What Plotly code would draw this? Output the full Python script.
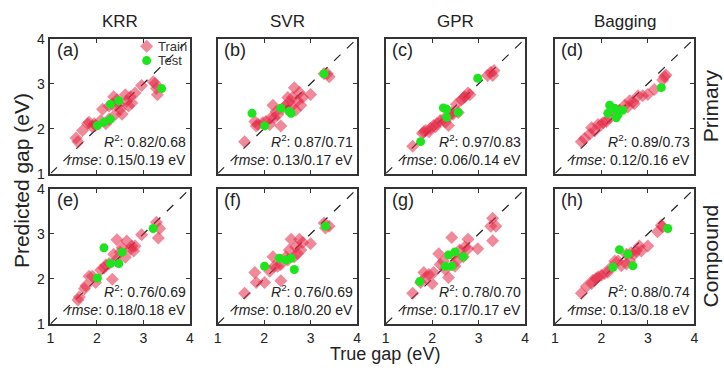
import plotly.graph_objects as go

# ---------------- data ----------------
models = ["KRR", "SVR", "GPR", "Bagging"]
rows = ["Primary", "Compound"]
panel_labels = ["(a)", "(b)", "(c)", "(d)", "(e)", "(f)", "(g)", "(h)"]
r2_texts = ["0.82/0.68", "0.87/0.71", "0.97/0.83", "0.89/0.73",
            "0.76/0.69", "0.76/0.69", "0.78/0.70", "0.88/0.74"]
rmse_texts = ["0.15/0.19", "0.13/0.17", "0.06/0.14", "0.12/0.16",
              "0.18/0.18", "0.18/0.20", "0.17/0.17", "0.13/0.18"]
series_names = ["Train", "Test"]
tick_vals = [1, 2, 3, 4]
diag = [1, 4]

# (a) KRR primary
a_train_x = [1.55, 1.59, 1.80, 1.83, 1.97, 2.12, 2.26, 2.36, 2.43, 2.50, 2.54, 2.61, 2.64, 2.72, 2.75, 2.82, 2.96, 3.21, 3.28, 3.30, 3.25, 2.26, 2.19, 2.40, 2.08, 1.94, 2.33, 2.47, 2.68, 1.69, 1.90]
a_train_y = [1.79, 1.71, 2.11, 2.14, 2.07, 2.43, 2.50, 2.71, 2.64, 2.43, 2.32, 2.75, 2.61, 2.71, 2.57, 2.79, 2.96, 3.04, 2.89, 2.75, 3.00, 2.21, 2.11, 2.32, 2.18, 2.11, 2.54, 2.54, 2.50, 1.96, 2.04]
a_test_x = [2.01, 2.15, 2.29, 2.29, 2.47, 3.39]
a_test_y = [2.07, 2.14, 2.21, 2.54, 2.62, 2.89]
# (b) SVR primary
b_train_x = [1.58, 1.87, 1.97, 2.04, 2.15, 2.19, 2.26, 2.36, 2.40, 2.47, 2.54, 2.61, 2.65, 2.72, 2.76, 2.79, 2.83, 3.00, 3.29, 3.36, 3.40, 1.80, 1.83, 2.12, 2.22, 2.29, 2.58, 2.68, 2.51]
b_train_y = [1.71, 2.09, 2.13, 2.16, 2.24, 2.52, 2.38, 2.06, 2.45, 2.52, 2.59, 2.69, 2.91, 2.62, 2.80, 2.52, 2.69, 2.76, 3.22, 3.22, 3.15, 2.16, 2.06, 2.09, 2.24, 2.31, 2.48, 2.41, 2.69]
b_test_x = [1.74, 2.01, 2.36, 2.54, 2.58, 3.29]
b_test_y = [2.34, 2.06, 2.45, 2.38, 2.34, 3.22]
# (c) GPR primary
c_train_x = [1.58, 1.79, 1.86, 1.96, 2.03, 2.10, 2.17, 2.24, 2.35, 2.38, 2.45, 2.56, 2.63, 2.70, 2.77, 2.81, 3.19, 3.26, 3.33, 3.30, 1.82, 1.93, 2.07, 2.28, 2.42, 2.52, 2.67]
c_train_y = [1.61, 1.89, 1.96, 2.00, 2.07, 2.11, 2.18, 2.21, 2.07, 2.29, 2.32, 2.36, 2.64, 2.71, 2.79, 2.75, 3.18, 3.25, 3.29, 3.18, 1.93, 1.93, 2.04, 2.14, 2.36, 2.54, 2.68]
c_test_x = [1.75, 2.24, 2.31, 2.31, 2.56, 2.98]
c_test_y = [1.71, 2.46, 2.43, 2.25, 2.36, 3.12]
# (d) Bagging primary
d_train_x = [1.57, 1.64, 1.75, 1.86, 1.93, 2.00, 2.11, 2.18, 2.29, 2.39, 2.50, 2.61, 2.68, 2.79, 2.89, 3.00, 3.14, 3.32, 3.36, 3.39, 1.79, 2.04, 2.36, 2.57, 2.71]
d_train_y = [1.71, 1.78, 1.88, 1.95, 2.09, 2.09, 2.16, 2.24, 2.34, 2.41, 2.52, 2.62, 2.59, 2.73, 2.73, 2.76, 2.87, 3.08, 3.15, 3.19, 2.02, 2.13, 2.38, 2.48, 2.55]
d_test_x = [2.18, 2.14, 2.29, 2.36, 2.46, 2.32, 3.29]
d_test_y = [2.52, 2.34, 2.45, 2.31, 2.41, 2.24, 2.91]
# (e) KRR compound
e_train_x = [1.59, 1.62, 1.73, 1.83, 1.97, 2.08, 2.19, 2.33, 2.40, 2.43, 2.54, 2.61, 2.64, 2.75, 2.79, 2.96, 3.28, 3.35, 3.32, 1.76, 1.90, 2.15, 2.26, 2.36, 2.50, 2.72, 2.82]
e_train_y = [1.53, 1.60, 1.78, 2.06, 1.92, 2.20, 2.31, 1.99, 2.41, 2.87, 2.69, 2.48, 2.84, 2.73, 2.62, 2.98, 3.26, 3.12, 2.91, 1.85, 2.06, 2.24, 2.34, 2.55, 2.59, 2.66, 2.73]
e_test_x = [2.01, 2.15, 2.29, 2.47, 2.54, 3.21]
e_test_y = [2.02, 2.69, 2.34, 2.34, 2.59, 3.12]
# (f) SVR compound
f_train_x = [1.58, 1.83, 2.01, 2.19, 2.22, 2.36, 2.36, 2.47, 2.54, 2.58, 2.68, 2.76, 2.79, 2.83, 3.00, 3.29, 3.40, 3.32, 1.80, 2.12, 2.29, 2.65, 2.72, 2.51]
f_train_y = [1.68, 1.92, 1.92, 2.49, 2.28, 1.96, 2.32, 2.49, 2.64, 2.88, 2.71, 2.88, 2.64, 2.81, 2.78, 3.24, 3.17, 3.13, 2.14, 2.17, 2.28, 2.49, 2.56, 2.42]
f_test_x = [2.01, 2.33, 2.47, 2.58, 2.65, 3.32]
f_test_y = [2.28, 2.46, 2.42, 2.46, 2.21, 3.17]
# (g) GPR compound
g_train_x = [1.58, 1.82, 1.93, 2.00, 2.03, 2.14, 2.24, 2.35, 2.42, 2.45, 2.52, 2.59, 2.67, 2.77, 2.77, 2.98, 3.30, 3.26, 3.37, 3.30, 1.75, 1.86, 2.17, 2.28, 2.49, 2.70]
g_train_y = [1.68, 2.14, 2.10, 1.89, 2.14, 2.56, 2.39, 2.03, 2.92, 2.53, 2.39, 2.64, 2.49, 2.88, 2.67, 2.67, 3.35, 3.17, 3.17, 2.85, 1.92, 2.03, 2.32, 2.21, 2.28, 2.71]
g_test_x = [1.73, 2.35, 2.42, 2.49, 2.67, 2.28]
g_test_y = [1.94, 2.53, 2.28, 2.60, 2.49, 2.28]
# (h) Bagging compound
h_train_x = [1.57, 1.68, 1.79, 1.93, 2.00, 2.14, 2.29, 2.43, 2.54, 2.64, 2.75, 2.82, 3.00, 3.21, 3.32, 3.29, 1.82, 1.89, 2.07, 2.21, 2.36, 2.61, 2.71, 2.54, 2.86]
h_train_y = [1.68, 1.83, 1.90, 2.04, 2.08, 2.15, 2.40, 2.29, 2.55, 2.58, 2.62, 2.73, 2.73, 3.05, 3.16, 3.19, 1.97, 2.01, 2.12, 2.26, 2.40, 2.40, 2.55, 2.33, 2.62]
h_test_x = [2.25, 2.39, 2.57, 2.68, 3.43]
h_test_y = [2.26, 2.65, 2.55, 2.29, 3.12]

train_x = [a_train_x, b_train_x, c_train_x, d_train_x, e_train_x, f_train_x, g_train_x, h_train_x]
train_y = [a_train_y, b_train_y, c_train_y, d_train_y, e_train_y, f_train_y, g_train_y, h_train_y]
test_x = [a_test_x, b_test_x, c_test_x, d_test_x, e_test_x, f_test_x, g_test_x, h_test_x]
test_y = [a_test_y, b_test_y, c_test_y, d_test_y, e_test_y, f_test_y, g_test_y, h_test_y]

# ---------------- layout ----------------
W, H = 724, 374
FONT = "Liberation Sans, Arial, sans-serif"
TXT = "#222"
col_left = [47, 216, 386, 557]
col_w = 141
row_top = [32, 189]
row_h = 141

TRAIN_COLOR = "rgba(228,40,70,0.55)"
TEST_COLOR = "rgb(30,228,30)"

# legend key positions (pixels): symbol centre
leg_sym_x = 146
leg_rows_y = [40, 55]
LEG_SYM_OFF = 22  # offset between legend left edge and symbol centre

fig = go.Figure()
layout = dict(
    width=W, height=H,
    margin=dict(l=0, r=0, t=0, b=0),
    paper_bgcolor="white", plot_bgcolor="white",
    font=dict(family=FONT, size=15, color=TXT),
    showlegend=True,
)
for k, key in enumerate(["legend", "legend2"]):
    layout[key] = dict(x=(leg_sym_x - LEG_SYM_OFF) / W, y=1 - leg_rows_y[k] / H,
                       xanchor="left", yanchor="middle",
                       bgcolor="rgba(0,0,0,0)", font=dict(size=13, color="#333"),
                       itemwidth=30, borderwidth=0)
annotations = []

for i in range(8):
    r, c = divmod(i, 4)
    n = i + 1
    xa = "x" if n == 1 else f"x{n}"
    ya = "y" if n == 1 else f"y{n}"
    x0 = col_left[c] / W
    x1 = (col_left[c] + col_w) / W
    y1 = 1 - row_top[r] / H
    y0 = 1 - (row_top[r] + row_h) / H
    ax_common = dict(range=[1, 4], tickvals=tick_vals, ticks="inside", ticklen=4,
                     tickwidth=1.2, tickcolor="#333", showgrid=False, zeroline=False,
                     showline=True, linecolor="#333", linewidth=1.8, mirror="ticks",
                     tickfont=dict(size=14, color=TXT))
    layout["xaxis" if n == 1 else f"xaxis{n}"] = dict(
        ax_common, domain=[x0, x1], anchor=ya, showticklabels=(r == 1), ticklabelstandoff=0)
    layout["yaxis" if n == 1 else f"yaxis{n}"] = dict(
        ax_common, domain=[y0, y1], anchor=xa, showticklabels=(c == 0), ticklabelstandoff=1)

    fig.add_trace(go.Scatter(x=diag, y=diag, mode="lines", xaxis=xa, yaxis=ya,
                             line=dict(color="#222", width=1.2, dash="dash"),
                             showlegend=False, hoverinfo="skip"))
    # legend entries carry no text of their own; the labels are drawn as annotations below
    fig.add_trace(go.Scatter(x=train_x[i], y=train_y[i], mode="markers", xaxis=xa, yaxis=ya,
                             name="", showlegend=(i == 0), legend="legend",
                             hovertemplate=series_names[0] + ": (%{x}, %{y})<extra></extra>",
                             marker=dict(symbol="diamond", size=10, color=TRAIN_COLOR,
                                         line=dict(width=0))))
    fig.add_trace(go.Scatter(x=test_x[i], y=test_y[i], mode="markers", xaxis=xa, yaxis=ya,
                             name="", showlegend=(i == 0), legend="legend2",
                             hovertemplate=series_names[1] + ": (%{x}, %{y})<extra></extra>",
                             marker=dict(symbol="circle", size=9, color=TEST_COLOR,
                                         line=dict(width=0))))

    annotations.append(dict(x=1.09, y=3.75, xref=xa, yref=ya, text=panel_labels[i],
                            showarrow=False, xanchor="left", yanchor="middle",
                            font=dict(size=18, color=TXT)))
    annotations.append(dict(x=3.96, y=1.72, xref=xa, yref=ya,
                            text=f"<i>R</i><sup>2</sup>: {r2_texts[i]}",
                            showarrow=False, xanchor="right", yanchor="middle",
                            font=dict(size=14, color=TXT)))
    annotations.append(dict(x=3.96, y=1.31, xref=xa, yref=ya,
                            text=f"<i>rmse</i>: {rmse_texts[i]} eV",
                            showarrow=False, xanchor="right", yanchor="middle",
                            font=dict(size=14, color=TXT)))

# legend labels next to the legend keys
for k, nm in enumerate(series_names):
    annotations.append(dict(x=(leg_sym_x + 8) / W, y=1 - leg_rows_y[k] / H, xref="paper", yref="paper",
                            text=nm, showarrow=False, xanchor="left", yanchor="middle",
                            font=dict(size=13, color="#333")))

for c, m in enumerate(models):
    annotations.append(dict(x=(col_left[c] + col_w / 2) / W, y=1 - 14 / H, xref="paper", yref="paper",
                            text=m, showarrow=False, xanchor="center", yanchor="middle",
                            font=dict(size=17, color=TXT)))
for r, name in enumerate(rows):
    annotations.append(dict(x=714 / W, y=1 - (row_top[r] + row_h / 2) / H, xref="paper", yref="paper",
                            text=name, showarrow=False, textangle=-90,
                            xanchor="center", yanchor="middle",
                            font=dict(size=21, color=TXT)))
annotations.append(dict(x=385 / W, y=0, xref="paper", yref="paper",
                        text="True gap (eV)", showarrow=False, xanchor="center", yanchor="bottom",
                        font=dict(size=18, color=TXT)))
annotations.append(dict(x=17 / W, y=1 - 180 / H, xref="paper", yref="paper",
                        text="Predicted gap (eV)", showarrow=False, textangle=-90,
                        xanchor="center", yanchor="middle",
                        font=dict(size=21, color=TXT)))

layout["annotations"] = annotations
fig.update_layout(**layout)
fig.write_html("out.html",
               config={"displayModeBar": False},
               post_script="document.body.style.margin='0px';document.body.style.overflow='hidden';")
